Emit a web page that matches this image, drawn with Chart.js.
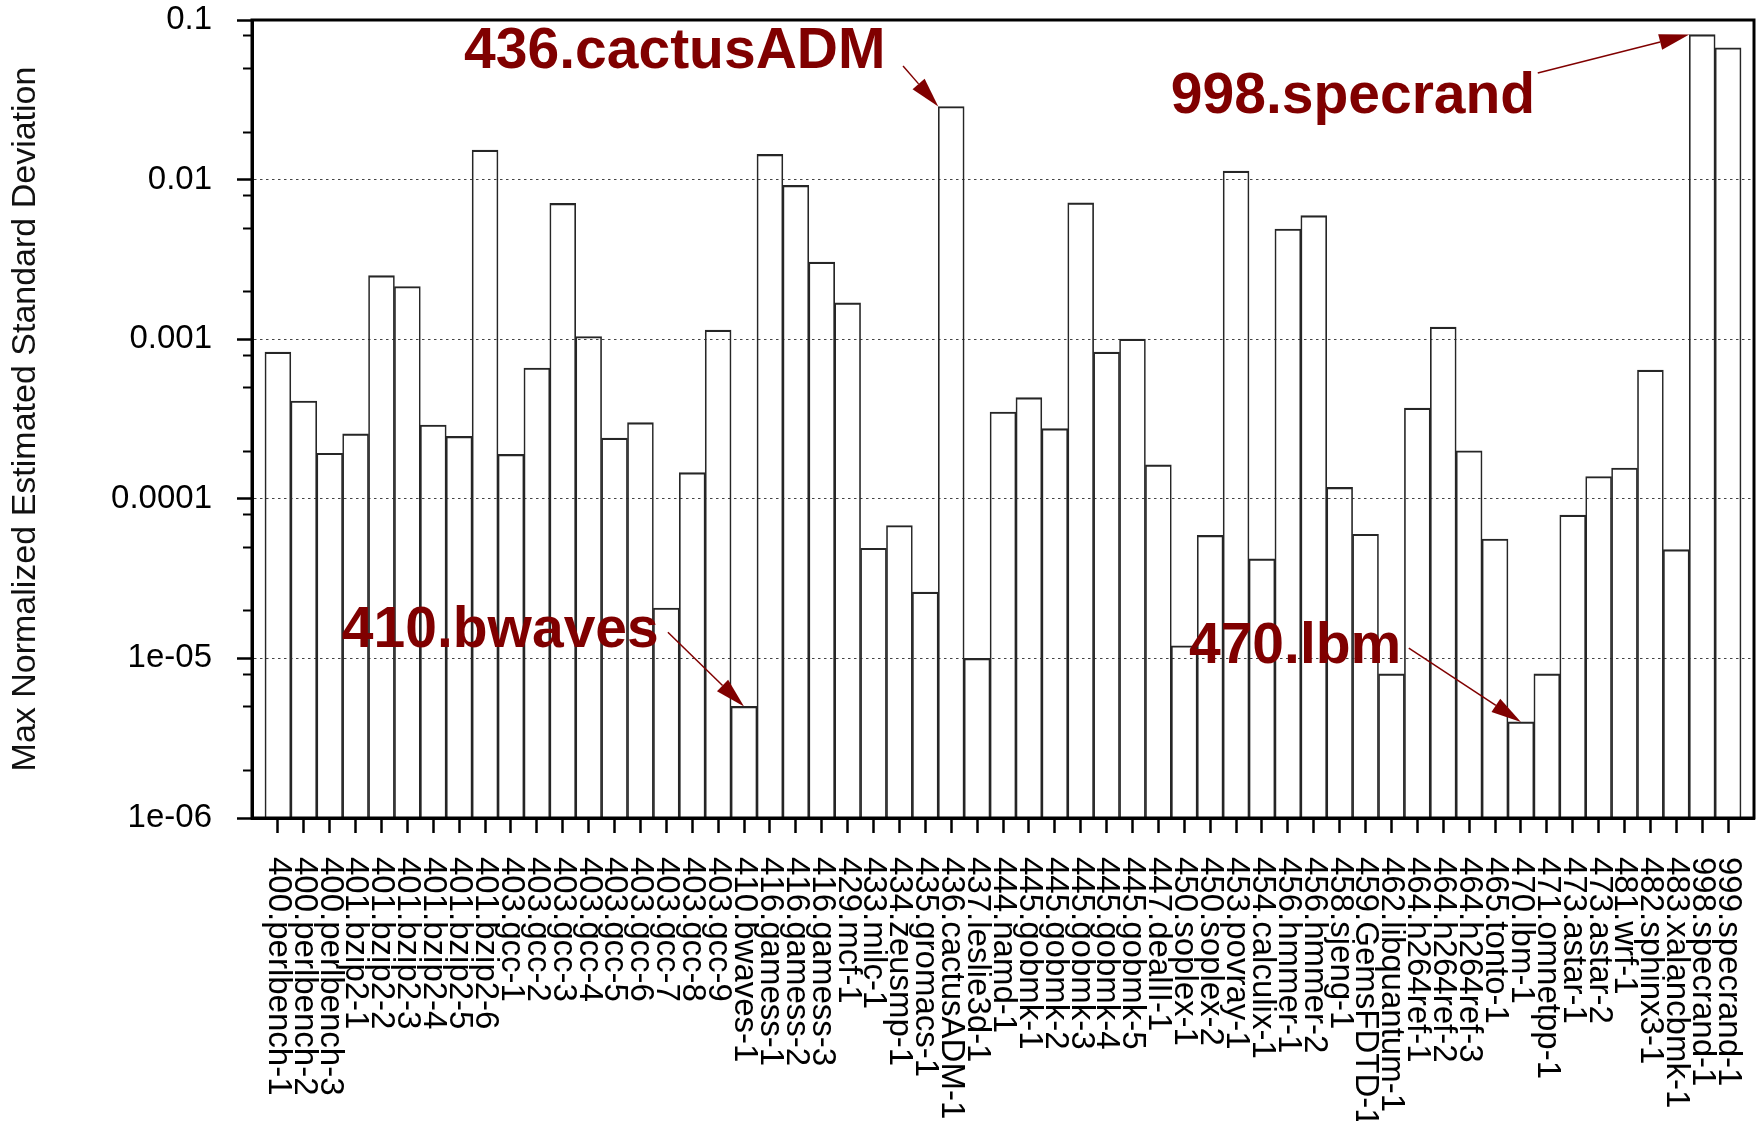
<!DOCTYPE html>
<html>
<head>
<meta charset="utf-8">
<script src="https://cdn.jsdelivr.net/npm/chart.js@4.4.1/dist/chart.umd.min.js"></script>
<style>
  html, body { margin: 0; padding: 0; background: #fff; }
  #wrap { width: 1763px; height: 1121px; }
</style>
</head>
<body>
<div id="wrap"><canvas id="myChart"></canvas></div>
<script>
const categories = [
  '400.perlbench-1', '400.perlbench-2', '400.perlbench-3',
  '401.bzip2-1', '401.bzip2-2', '401.bzip2-3', '401.bzip2-4', '401.bzip2-5', '401.bzip2-6',
  '403.gcc-1', '403.gcc-2', '403.gcc-3', '403.gcc-4', '403.gcc-5', '403.gcc-6', '403.gcc-7', '403.gcc-8', '403.gcc-9',
  '410.bwaves-1', '416.gamess-1', '416.gamess-2', '416.gamess-3', '429.mcf-1', '433.milc-1',
  '434.zeusmp-1', '435.gromacs-1', '436.cactusADM-1', '437.leslie3d-1', '444.namd-1',
  '445.gobmk-1', '445.gobmk-2', '445.gobmk-3', '445.gobmk-4', '445.gobmk-5', '447.dealII-1',
  '450.soplex-1', '450.soplex-2', '453.povray-1', '454.calculix-1', '456.hmmer-1', '456.hmmer-2',
  '458.sjeng-1', '459.GemsFDTD-1', '462.libquantum-1', '464.h264ref-1', '464.h264ref-2', '464.h264ref-3',
  '465.tonto-1', '470.lbm-1', '471.omnetpp-1', '473.astar-1', '473.astar-2', '481.wrf-1',
  '482.sphinx3-1', '483.xalancbmk-1', '998.specrand-1', '999.specrand-1'
];

const values = [
  8.3e-4, 4.1e-4, 1.93e-4,
  2.55e-4, 2.5e-3, 2.14e-3, 2.9e-4, 2.46e-4, 1.53e-2,
  1.9e-4, 6.6e-4, 7.1e-3, 1.04e-3, 2.4e-4, 3.0e-4, 2.07e-5, 1.46e-4, 1.14e-3,
  5.0e-6, 1.44e-2, 9.2e-3, 3.04e-3, 1.69e-3, 4.9e-5,
  6.8e-5, 2.6e-5, 2.87e-2, 1.0e-5, 3.5e-4,
  4.3e-4, 2.75e-4, 7.15e-3, 8.3e-4, 1.0e-3, 1.63e-4,
  1.2e-5, 5.9e-5, 1.13e-2, 4.2e-5, 4.9e-3, 5.95e-3,
  1.18e-4, 6.0e-5, 8.0e-6, 3.7e-4, 1.19e-3, 2.0e-4,
  5.6e-5, 4.0e-6, 8.0e-6, 7.9e-5, 1.38e-4, 1.56e-4,
  6.4e-4, 4.8e-5, 8.1e-2, 6.7e-2
];

const yMajorTicks = [1e-6, 1e-5, 1e-4, 1e-3, 1e-2, 1e-1];
const yMajorLabels = ['1e-06', '1e-05', '0.0001', '0.001', '0.01', '0.1'];
const yMinorSteps = [2, 5, 8];

// callouts: text anchor and arrow tail in data units, arrow points at a bar top
const notes = [
  { text: '436.cactusADM', bar: 26, tipDx: -0.5, textAt: [7.19, 0.050], tailAt: [24.14, 0.0515] },
  { text: '998.specrand', bar: 55, tipDx: -0.5, textAt: [34.48, 0.0261], tailAt: [48.65, 0.0466] },
  { text: '410.bwaves', bar: 18, tipDx: 0, textAt: [2.47, 1.18e-5], tailAt: [15.06, 1.46e-5] },
  { text: '470.lbm', bar: 48, tipDx: 0, textAt: [35.18, 9.35e-6], tailAt: [43.67, 1.16e-5] }
];

const FONT = '"Liberation Sans", Arial, Helvetica, sans-serif';
const minorTicks = [];
yMajorTicks.slice(0, -1).forEach(m => yMinorSteps.forEach(s => minorTicks.push(m * s)));

const extras = {
  id: 'extras',
  afterDatasetsDraw(chart) {
    const {ctx, chartArea: a, scales: {x, y}} = chart;
    ctx.save();
    // short minor ticks on the y axis
    ctx.strokeStyle = '#000';
    ctx.lineWidth = 2;
    minorTicks.forEach(v => {
      const py = Math.round(y.getPixelForValue(v)) + 0.5;
      ctx.beginPath();
      ctx.moveTo(a.left - 9, py);
      ctx.lineTo(a.left, py);
      ctx.stroke();
    });
    // frame
    ctx.lineWidth = 3;
    ctx.strokeRect(a.left, a.top, a.right - a.left, a.bottom - a.top);

    // callouts
    ctx.fillStyle = '#800000';
    ctx.strokeStyle = '#800000';
    notes.forEach(n => {
      ctx.font = 'bold 57px ' + FONT;
      ctx.textAlign = 'left';
      ctx.textBaseline = 'alphabetic';
      ctx.fillText(n.text, x.getPixelForValue(n.textAt[0]), y.getPixelForValue(n.textAt[1]));

      const x0 = x.getPixelForValue(n.tailAt[0]), y0 = y.getPixelForValue(n.tailAt[1]);
      const x1 = x.getPixelForValue(n.bar + n.tipDx), y1 = y.getPixelForValue(values[n.bar]);
      const ang = Math.atan2(y1 - y0, x1 - x0);
      const len = 30, half = 8;
      const bx = x1 - len * Math.cos(ang), by = y1 - len * Math.sin(ang);
      ctx.lineWidth = 1.5;
      ctx.beginPath();
      ctx.moveTo(x0, y0);
      ctx.lineTo(bx, by);
      ctx.stroke();
      ctx.beginPath();
      ctx.moveTo(x1, y1);
      ctx.lineTo(bx + half * Math.sin(ang), by - half * Math.cos(ang));
      ctx.lineTo(bx - half * Math.sin(ang), by + half * Math.cos(ang));
      ctx.closePath();
      ctx.fill();
    });
    ctx.restore();
  },
  afterDraw(chart) {
    // category labels, rotated clockwise, reading downwards
    const {ctx, chartArea: a, scales: {x}} = chart;
    ctx.save();
    ctx.font = '33px ' + FONT;
    ctx.fillStyle = '#000';
    ctx.textAlign = 'left';
    ctx.textBaseline = 'middle';
    categories.forEach((c, i) => {
      ctx.save();
      ctx.translate(x.getPixelForValue(i), a.bottom + 39);
      ctx.rotate(Math.PI / 2);
      ctx.fillText(c, 0, 0);
      ctx.restore();
    });
    ctx.restore();
  }
};

const ctx = document.getElementById('myChart').getContext('2d');

const myChart = new Chart(ctx, {
  type: 'bar',
  data: {
    datasets: [{
      data: categories.map((c, i) => ({ x: i, y: values[i] })),
      backgroundColor: 'rgba(0,0,0,0)',
      borderColor: '#262626',
      borderWidth: { top: 1.5, left: 1, right: 1, bottom: 0 },
      barPercentage: 1,
      categoryPercentage: 1
    }]
  },
  options: {
    responsive: true,
    maintainAspectRatio: false,
    animation: false,
    layout: { padding: { top: 20, right: 9, bottom: 0, left: 0 } },
    scales: {
      x: {
        type: 'linear',
        min: -1,
        max: categories.length,
        offset: false,
        afterBuildTicks: s => { s.ticks = categories.map((c, i) => ({ value: i })); },
        afterFit: s => { s.height = 303; s.paddingLeft = 0; s.paddingRight = 0; },
        grid: {
          offset: false,
          drawOnChartArea: false,
          tickLength: 15,
          tickWidth: 2.5,
          tickColor: '#000'
        },
        border: { color: '#000', width: 3 },
        ticks: { display: false, autoSkip: false }
      },
      y: {
        type: 'logarithmic',
        min: 1e-6,
        max: 0.1,
        afterBuildTicks: s => {
          const t = yMajorTicks.map(v => ({ value: v, major: true }))
            .concat(minorTicks.map(v => ({ value: v, major: false })));
          t.sort((p, q) => p.value - q.value);
          s.ticks = t;
        },
        afterFit: s => { s.width = 252; s.paddingTop = 0; s.paddingBottom = 0; },
        grid: {
          color: c => (c.tick && c.tick.major && c.tick.value > 1.5e-6 && c.tick.value < 0.09) ? '#444' : 'rgba(0,0,0,0)',
          lineWidth: 1,
          tickLength: 15,
          tickWidth: 2.5,
          tickColor: c => (c.tick && c.tick.major) ? '#000' : 'rgba(0,0,0,0)'
        },
        border: { color: '#000', width: 3, dash: [2.5, 3.5] },
        ticks: {
          autoSkip: false,
          padding: 25,
          color: '#000',
          font: { family: FONT, size: 33, lineHeight: 1 },
          callback: function(value) {
            const k = yMajorTicks.findIndex(m => Math.abs(m - value) / m < 1e-6);
            return k >= 0 ? yMajorLabels[k] : '';
          }
        },
        title: {
          display: true,
          text: 'Max Normalized Estimated Standard Deviation',
          color: '#111',
          font: { family: FONT, size: 34 },
          padding: { top: 5, bottom: 0 }
        }
      }
    },
    plugins: {
      legend: { display: false },
      tooltip: { enabled: false }
    }
  },
  plugins: [extras]
});
</script>
</body>
</html>
